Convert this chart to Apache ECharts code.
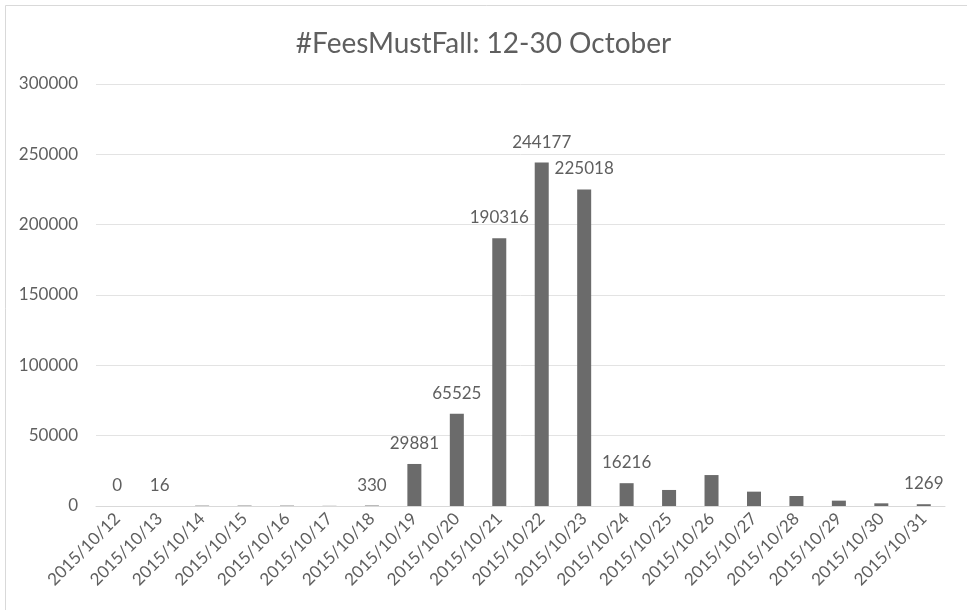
<!DOCTYPE html>
<html>
<head>
<meta charset="utf-8">
<script src="https://cdn.jsdelivr.net/npm/echarts@6/dist/echarts.min.js"></script>
<style>
  html, body { margin: 0; padding: 0; background: #fff; }
  #chart { width: 967px; height: 610px; }
</style>
</head>
<body>
<div id="chart"></div>
<script>
// 日期类目
const dates = [
  '2015/10/12', '2015/10/13', '2015/10/14', '2015/10/15', '2015/10/16',
  '2015/10/17', '2015/10/18', '2015/10/19', '2015/10/20', '2015/10/21',
  '2015/10/22', '2015/10/23', '2015/10/24', '2015/10/25', '2015/10/26',
  '2015/10/27', '2015/10/28', '2015/10/29', '2015/10/30', '2015/10/31'
]
// 每天的数量
const counts = [
  0, 16, 250, 280, 260, 120, 330, 29881, 65525, 190316,
  244177, 225018, 16216, 11400, 22000, 10200, 7100, 3800, 1900, 1269
]
// 哪些柱子显示数值标签
const labelled = [
  true, true, false, false, false, false, true, true, true, true,
  true, true, true, false, false, false, false, false, false, true
]
// y轴刻度
const yTicks = [0, 50000, 100000, 150000, 200000, 250000, 300000]

const textColor = '#5f5f5f'
const font = 'Lato'

const chart = echarts.init(document.getElementById('chart'))

const option = {
  backgroundColor: '#fff',
  animation: false,
  textStyle: { fontFamily: font },
  title: {
    text: '#FeesMustFall: 12-30 October',
    left: 'center',
    top: 25,
    textStyle: { color: textColor, fontSize: 28, fontWeight: 'normal', fontFamily: font }
  },
  graphic: [{
    type: 'rect',
    shape: { x: 5.5, y: 5.5, width: 980, height: 630 },
    style: { fill: 'none', stroke: '#d9d9d9', lineWidth: 1 },
    silent: true
  }],
  grid: { left: 96, right: 22, top: 84, bottom: 104 },
  xAxis: {
    type: 'category',
    data: dates,
    axisLine: { lineStyle: { color: '#d9d9d9' } },
    axisTick: { show: false },
    axisLabel: {
      interval: 0,
      rotate: 45,
      color: textColor,
      fontSize: 17,
      margin: 10,
      fontFamily: font
    }
  },
  yAxis: {
    type: 'value',
    min: yTicks[0],
    max: yTicks[yTicks.length - 1],
    interval: 50000,
    axisLine: { show: false },
    axisTick: { show: false },
    splitLine: { lineStyle: { color: '#e3e3e3' } },
    axisLabel: {
      color: textColor,
      fontSize: 17,
      fontFamily: font,
      margin: 18,
      formatter: v => String(v)
    }
  },
  series: [{
    type: 'bar',
    barWidth: '33%',
    itemStyle: { color: '#6b6b6b' },
    data: counts.map((v, i) => ({
      value: v,
      label: {
        show: labelled[i],
        position: 'top',
        distance: 12,
        color: textColor,
        fontSize: 17,
        fontFamily: font
      }
    }))
  }]
}

chart.setOption(option)
</script>
</body>
</html>
